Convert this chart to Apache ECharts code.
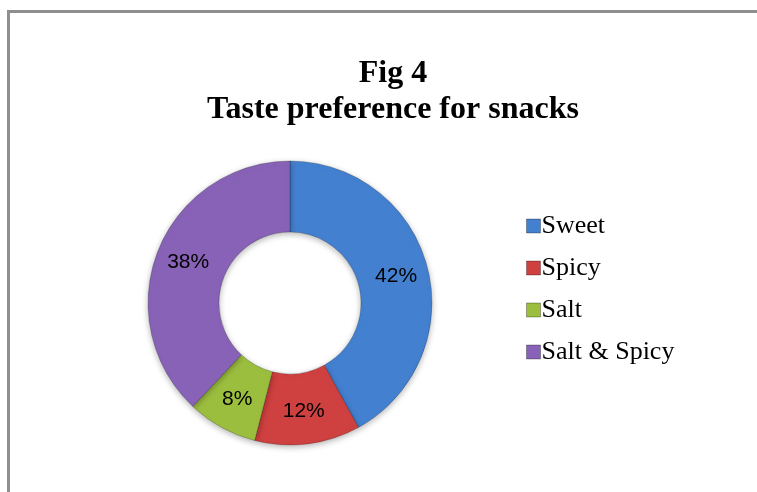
<!DOCTYPE html>
<html><head><meta charset="utf-8">
<script src="https://cdn.jsdelivr.net/npm/echarts@6/dist/echarts.min.js"></script>
<style>html,body{margin:0;padding:0;background:#fff}#c{width:757px;height:492px}</style>
</head><body><div id="c"></div>
<script>
const categories = ['Sweet', 'Spicy', 'Salt', 'Salt & Spicy'];
const values = [42, 12, 8, 38];
const colors = ['#4480D0', '#CF4040', '#9CBE3E', '#8762B6'];
const titleLines = ['Fig 4', 'Taste preference for snacks'];

const chart = echarts.init(document.getElementById('c'), null, {renderer: 'canvas'});
chart.setOption({
  animation: false,
  backgroundColor: '#fff',
  title: {
    text: titleLines.join('\n'),
    left: 388, top: 51, textAlign: 'center',
    textStyle: {fontFamily: 'Liberation Serif', fontWeight: 'bold', fontSize: 32, lineHeight: 36, color: '#000'}
  },
  graphic: [{
    type: 'rect', silent: true,
    shape: {x: 8.5, y: 11.5, width: 800, height: 520},
    style: {fill: 'none', stroke: '#8f8f8f', lineWidth: 3}
  }],
  legend: {
    orient: 'vertical', left: 521, top: 208,
    itemWidth: 14, itemHeight: 14, itemGap: 16,
    icon: 'rect',
    itemStyle: {borderColor: 'rgba(0,0,0,0.3)', borderWidth: 1},
    textStyle: {fontFamily: 'Liberation Serif', fontSize: 26, lineHeight: 26, color: '#000', padding: [0, 0, 0, -4]},
    data: categories
  },
  series: [{
    type: 'pie',
    center: [290, 303],
    radius: [71, 142],
    startAngle: 90,
    clockwise: true,
    color: colors,
    itemStyle: {borderColor: 'rgba(0,0,0,0.25)', borderWidth: 0.8,
      shadowBlur: 6, shadowColor: 'rgba(0,0,0,0.3)', shadowOffsetY: 2},
    label: {
      position: 'inside',
      formatter: p => p.value + '%',
      fontFamily: 'Liberation Sans', fontSize: 21, color: '#000'
    },
    labelLine: {show: false},
    data: categories.map((c, i) => ({name: c, value: values[i]}))
  }]
});
</script></body></html>
